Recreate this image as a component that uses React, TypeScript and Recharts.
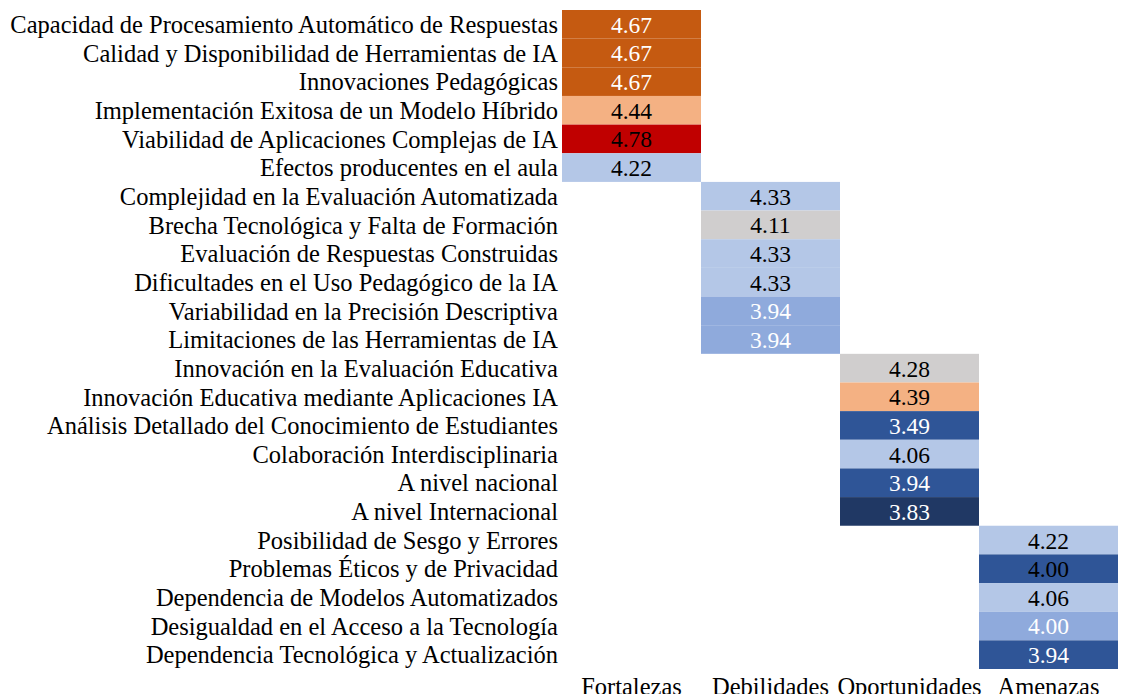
import { Scatter, ScatterChart, XAxis, YAxis } from 'recharts'

const columns = ['Fortalezas', 'Debilidades', 'Oportunidades', 'Amenazas']

const fortalezas = [
  'Capacidad de Procesamiento Automático de Respuestas',
  'Calidad y Disponibilidad de Herramientas de IA',
  'Innovaciones Pedagógicas',
  'Implementación Exitosa de un Modelo Híbrido',
  'Viabilidad de Aplicaciones Complejas de IA',
  'Efectos producentes en el aula',
]
const fortalezasScores = [4.67, 4.67, 4.67, 4.44, 4.78, 4.22]

const debilidades = [
  'Complejidad en la Evaluación Automatizada',
  'Brecha Tecnológica y Falta de Formación',
  'Evaluación de Respuestas Construidas',
  'Dificultades en el Uso Pedagógico de la IA',
  'Variabilidad en la Precisión Descriptiva',
  'Limitaciones de las Herramientas de IA',
]
const debilidadesScores = [4.33, 4.11, 4.33, 4.33, 3.94, 3.94]

const oportunidades = [
  'Innovación en la Evaluación Educativa',
  'Innovación Educativa mediante Aplicaciones IA',
  'Análisis Detallado del Conocimiento de Estudiantes',
  'Colaboración Interdisciplinaria',
  'A nivel nacional',
  'A nivel Internacional',
]
const oportunidadesScores = [4.28, 4.39, 3.49, 4.06, 3.94, 3.83]

const amenazas = [
  'Posibilidad de Sesgo y Errores',
  'Problemas Éticos y de Privacidad',
  'Dependencia de Modelos Automatizados',
  'Desigualdad en el Acceso a la Tecnología',
  'Dependencia Tecnológica y Actualización',
]
const amenazasScores = [4.22, 4.0, 4.06, 4.0, 3.94]

// cell colours, row by row (top to bottom)
const ORANGE = '#C55A11'
const SALMON = '#F4B183'
const RED = '#C00000'
const LIGHT = '#B4C7E7'
const GREY = '#D0CECE'
const MID = '#8FAADC'
const DARK = '#2F5597'
const NAVY = '#203864'
const cellFills = [
  ORANGE, ORANGE, ORANGE, SALMON, RED, LIGHT,
  LIGHT, GREY, LIGHT, LIGHT, MID, MID,
  GREY, SALMON, DARK, LIGHT, DARK, NAVY,
  LIGHT, DARK, LIGHT, MID, DARK,
]
const W = '#FFFFFF'
const B = '#000000'
const textFills = [
  W, W, W, B, B, B,
  B, B, B, B, W, W,
  B, B, W, B, W, W,
  B, B, B, W, W,
]

const groups = [
  { labels: fortalezas, scores: fortalezasScores },
  { labels: debilidades, scores: debilidadesScores },
  { labels: oportunidades, scores: oportunidadesScores },
  { labels: amenazas, scores: amenazasScores },
]

const points = groups.flatMap((g, ci) =>
  g.labels.map((label, i) => ({ label, column: columns[ci], value: g.scores[i] })),
)

const WIDTH = 1121
const HEIGHT = 694
const MARGIN = { top: 10, right: 3, bottom: 0, left: 0 }
const Y_AXIS_WIDTH = 562
const X_AXIS_HEIGHT = 25
const FONT = 'Liberation Serif'
const LABEL_SIZE = 24.5
const VALUE_SIZE = 23.5

const plotWidth = WIDTH - MARGIN.left - MARGIN.right - Y_AXIS_WIDTH
const plotHeight = HEIGHT - MARGIN.top - MARGIN.bottom - X_AXIS_HEIGHT
const cellW = plotWidth / columns.length
const cellH = plotHeight / points.length

const HeatCell = (props: any) => {
  const { cx, cy, payload, index } = props
  const i = typeof index === 'number' ? index : points.indexOf(payload)
  return (
    <g style={{ fontFamily: FONT }}>
      <rect
        x={cx - cellW / 2}
        y={cy - cellH / 2}
        width={cellW}
        height={cellH}
        fill={cellFills[i]}
      />
      <text
        x={cx}
        y={cy}
        dy="0.36em"
        textAnchor="middle"
        fill={textFills[i]}
        fontFamily={FONT}
        fontSize={VALUE_SIZE}
      >
        {payload.value.toFixed(2)}
      </text>
    </g>
  )
}

export default function App() {
  return (
    <div style={{ position: 'absolute', left: 0, top: 0, background: '#fff', fontFamily: FONT }}>
      <ScatterChart width={WIDTH} height={HEIGHT} margin={MARGIN}>
        <XAxis
          type="category"
          dataKey="column"
          allowDuplicatedCategory={false}
          height={X_AXIS_HEIGHT}
          axisLine={false}
          tickLine={false}
          tickSize={6}
          tickMargin={3}
          interval={0}
          tick={{ fill: '#000', fontSize: LABEL_SIZE, fontFamily: FONT }}
        />
        <YAxis
          type="category"
          dataKey="label"
          width={Y_AXIS_WIDTH}
          reversed
          axisLine={false}
          tickLine={false}
          tickSize={0}
          tickMargin={4}
          interval={0}
          tick={{ fill: '#000', fontSize: LABEL_SIZE, fontFamily: FONT }}
        />
        <Scatter data={points} shape={HeatCell} isAnimationActive={false} />
      </ScatterChart>
    </div>
  )
}
